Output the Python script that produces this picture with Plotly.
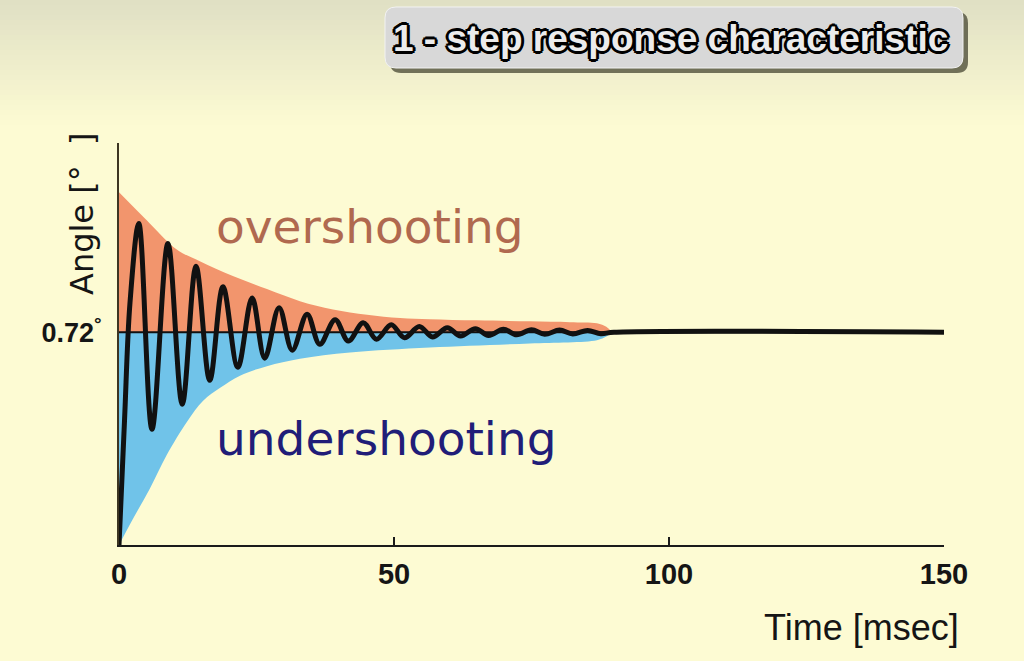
import plotly.graph_objects as go

# ---------------- data ----------------
steady_value = 0.72          # degrees, final angle
x_ticks = [0, 50, 100, 150]
x_range = [0, 150]
y_range = [0, 1.36]

# upper (overshoot) envelope
upper_t = [0, 5.6, 10.5, 14.7, 20.7, 26.9, 32.9, 38.9, 45.1, 51.1, 56.5, 65.0, 74.7, 82.0, 86.9, 88.6, 89.6]
upper_v = [1.193, 1.088, 1.000, 0.960, 0.910, 0.866, 0.825, 0.797, 0.779, 0.768, 0.764, 0.760, 0.757, 0.754, 0.750, 0.738, 0.72]

# lower (undershoot) envelope
lower_t = [0, 2.4, 5.6, 8.7, 12.4, 15.3, 18.4, 22.0, 26.9, 32.9, 42.0, 56.5, 74.7, 86.9, 88.6, 89.6]
lower_v = [0, 0.084, 0.190, 0.305, 0.418, 0.488, 0.532, 0.573, 0.605, 0.630, 0.651, 0.668, 0.682, 0.693, 0.705, 0.72]

# step response (rise, then alternating peaks / troughs, then steady)
resp_t = [0, 1.0, 2.0, 3.6, 6.0, 8.9, 11.5, 14.0, 16.5, 18.9, 21.6, 24.2, 26.5, 29.1, 31.5,
          34.2, 36.5, 39.3, 41.7, 44.4, 46.8, 49.5, 51.9, 54.6, 57.0, 59.7, 62.1, 64.8,
          67.2, 69.9, 72.3, 75.0, 77.4, 80.1, 82.5, 85.2, 87.6, 90.0, 150]
resp_v = [0, 0.42, 0.82, 1.088, 0.392, 1.020, 0.476, 0.943, 0.557, 0.874, 0.601, 0.836, 0.632,
          0.803, 0.659, 0.781, 0.679, 0.762, 0.690, 0.752, 0.696, 0.745, 0.701, 0.739, 0.704,
          0.735, 0.707, 0.732, 0.709, 0.730, 0.711, 0.728, 0.713, 0.727, 0.714, 0.726, 0.715,
          0.72, 0.72]

title_text = "1 - step response characteristic"
over_text = "overshooting"
under_text = "undershooting"
x_title = "Time [msec]"
y_title = "Angle [°\u00a0\u00a0]"
y_tick_text = "0.72<sup>°</sup>"

# ---------------- layout geometry ----------------
W, H = 1024, 661
ML, MR, MT, MB = 119, 80, 143, 116


def pxx(p):
    return (p - ML) / (W - ML - MR)


def pxy(p):
    return (H - MB - p) / (H - MT - MB)


fig = go.Figure()

# orange fill
fig.add_trace(go.Scatter(x=upper_t, y=[steady_value] * len(upper_t), mode="lines",
                         line=dict(width=0, color="rgba(0,0,0,0)"), hoverinfo="skip", showlegend=False))
fig.add_trace(go.Scatter(x=upper_t, y=upper_v, mode="lines", fill="tonexty",
                         fillcolor="#f2956d", line=dict(width=0, shape="spline", color="rgba(0,0,0,0)"),
                         hoverinfo="skip", showlegend=False))
# blue fill
fig.add_trace(go.Scatter(x=lower_t, y=[steady_value] * len(lower_t), mode="lines",
                         line=dict(width=0, color="rgba(0,0,0,0)"), hoverinfo="skip", showlegend=False))
fig.add_trace(go.Scatter(x=lower_t, y=lower_v, mode="lines", fill="tonexty",
                         fillcolor="#70c3e9", line=dict(width=0, shape="spline", color="rgba(0,0,0,0)"),
                         hoverinfo="skip", showlegend=False))
# steady-state reference line
fig.add_trace(go.Scatter(x=x_range, y=[steady_value] * 2, mode="lines",
                         line=dict(width=2, color="#111111"), hoverinfo="skip", showlegend=False))
# response
fig.add_trace(go.Scatter(x=resp_t, y=resp_v, mode="lines",
                         line=dict(width=5, color="#111111", shape="spline", smoothing=1.0),
                         showlegend=False))

shapes = []
# background gradient at the top
top_c = (224, 224, 196)
bot_c = (253, 251, 211)
nb = 26
for i in range(nb):
    f = i / (nb - 1)
    c = tuple(int(round(top_c[k] + (bot_c[k] - top_c[k]) * f)) for k in range(3))
    y0 = i * 5
    shapes.append(dict(type="rect", xref="paper", yref="paper", layer="below",
                       x0=pxx(0), x1=pxx(W), y0=pxy(y0), y1=pxy(y0 + 5.5),
                       fillcolor="rgb(%d,%d,%d)" % c, line=dict(width=0)))


def rounded(x0, y0, x1, y1, r):
    X = pxx
    Y = pxy
    return ("M %f,%f L %f,%f Q %f,%f %f,%f L %f,%f Q %f,%f %f,%f L %f,%f Q %f,%f %f,%f "
            "L %f,%f Q %f,%f %f,%f Z" % (
                X(x0 + r), Y(y0), X(x1 - r), Y(y0), X(x1), Y(y0), X(x1), Y(y0 + r),
                X(x1), Y(y1 - r), X(x1), Y(y1), X(x1 - r), Y(y1),
                X(x0 + r), Y(y1), X(x0), Y(y1), X(x0), Y(y1 - r),
                X(x0), Y(y0 + r), X(x0), Y(y0), X(x0 + r), Y(y0)))


shapes.append(dict(type="path", xref="paper", yref="paper", path=rounded(390, 12, 968, 73, 11),
                   fillcolor="rgba(70,70,50,0.75)", line=dict(width=0), layer="above"))
shapes.append(dict(type="path", xref="paper", yref="paper", path=rounded(385, 7, 963, 68, 11),
                   fillcolor="#d8d8d8", line=dict(width=1, color="#f2f2f2"), layer="above"))

outline = ", ".join("%dpx %dpx 0 #000" % (dx, dy) for dx, dy in
                    [(2, 2), (-2, -2), (2, -2), (-2, 2), (0, 2), (2, 0), (0, -2), (-2, 0),
                     (3, 0), (-3, 0), (0, 3), (0, -3)])

annotations = [
    dict(text=title_text, xref="paper", yref="paper", x=pxx(670), y=pxy(38),
         xanchor="center", yanchor="middle", showarrow=False,
         font=dict(family="Liberation Sans", size=37, color="#ececec", weight="bold", shadow=outline)),
    dict(text=over_text, xref="paper", yref="paper", x=pxx(214), y=pxy(226),
         xanchor="left", yanchor="middle", showarrow=False,
         font=dict(family="DejaVu Sans", size=47, color="#b0694f")),
    dict(text=under_text, xref="paper", yref="paper", x=pxx(214), y=pxy(438),
         xanchor="left", yanchor="middle", showarrow=False,
         font=dict(family="DejaVu Sans", size=47, color="#211d78")),
    dict(text=x_title, xref="paper", yref="paper", x=pxx(961), y=pxy(627),
         xanchor="right", yanchor="middle", showarrow=False,
         font=dict(family="Liberation Sans", size=36, color="#151515")),
    dict(text=y_title, xref="paper", yref="paper", x=pxx(82), y=pxy(214),
         xanchor="center", yanchor="middle", showarrow=False, textangle=-90,
         font=dict(family="DejaVu Sans", size=32, color="#151515")),
]

fig.update_layout(
    width=W, height=H,
    margin=dict(l=ML, r=MR, t=MT, b=MB, pad=0),
    paper_bgcolor="#fdfbd3",
    plot_bgcolor="rgba(0,0,0,0)",
    shapes=shapes,
    annotations=annotations,
    showlegend=False,
    xaxis=dict(range=x_range, tickvals=x_ticks, ticks="inside", ticklen=8, tickwidth=1.5,
               tickcolor="#1a1a1a", showline=True, linecolor="#1a1a1a", linewidth=2,
               showgrid=False, zeroline=False, ticklabelstandoff=2,
               tickfont=dict(family="Liberation Sans", size=29, color="#151515", weight="bold")),
    yaxis=dict(range=y_range, tickvals=[steady_value], ticktext=[y_tick_text], ticks="",
               showline=True, linecolor="#3d3522", linewidth=2, showgrid=False, zeroline=False,
               ticklabelstandoff=10,
               tickfont=dict(family="Liberation Sans", size=27, color="#151515", weight="bold")),
)

fig.write_html("out.html")
